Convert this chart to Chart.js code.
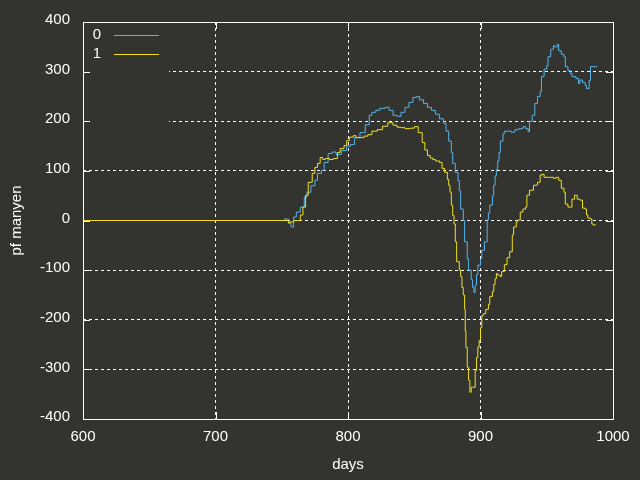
<!DOCTYPE html>
<html>
<head>
<meta charset="utf-8">
<script src="https://cdn.jsdelivr.net/npm/chart.js@4"></script>
<style>
  html, body { margin: 0; padding: 0; background: #33342f; }
  #wrap { width: 640px; height: 480px; }
</style>
</head>
<body>
<div id="wrap"><canvas id="chart" width="640" height="480"></canvas></div>
<script>
const days0 = [600, 752, 755, 757, 759, 761, 764, 767, 769, 772, 775, 777, 780, 782, 785, 788, 791, 795, 799, 802,
  805, 809, 813, 816, 818, 821, 824, 828, 831, 834, 837, 840, 843, 846, 849, 852, 854, 857, 860, 863,
  866, 869, 872, 874, 876, 878, 879, 881, 883, 884, 885, 887, 888, 890, 891, 893, 894, 895, 896, 897,
  898, 900, 901, 903, 905, 906, 907, 909, 910, 911, 912, 913, 914, 915, 917, 918, 920, 923, 926, 929,
  932, 934, 936, 937, 939, 941, 943, 945, 946, 948, 950, 951, 953, 955, 956, 958, 959, 961, 963, 964,
  966, 968, 969, 972, 974, 975, 977, 979, 980, 982, 983, 985, 986, 988];
const pf0 = [0, 0, 3, -5, -13, 7, 17, 27, 47, 57, 70, 81, 95, 101, 117, 135, 138, 133, 141, 150,
  153, 167, 177, 193, 212, 218, 222, 226, 228, 222, 212, 210, 218, 228, 238, 248, 250, 243, 236, 228,
  222, 214, 205, 196, 180, 160, 137, 115, 97, 80, 60, 23, 0, -43, -77, -100, -119, -135, -145, -130,
  -109, -90, -77, -60, -43, 1, 15, 31, 50, 71, 90, 103, 120, 137, 160, 175, 180, 180, 178, 183,
  185, 189, 185, 179, 200, 212, 236, 250, 260, 290, 305, 312, 330, 345, 352, 350, 355, 342, 335, 330,
  310, 302, 296, 290, 286, 276, 283, 278, 272, 266, 282, 310, 310, 310];

const days1 = [600, 755, 756, 759, 762, 764, 766, 768, 770, 773, 775, 777, 779, 781, 783, 786, 789, 792, 794, 797,
  799, 801, 804, 806, 809, 812, 815, 818, 822, 826, 830, 834, 837, 840, 843, 847, 850, 853, 856, 858,
  860, 862, 864, 866, 869, 871, 873, 875, 876, 877, 878, 879, 880, 881, 882, 884, 885, 886, 887, 888,
  888.5, 889, 890, 891, 892, 893, 894, 896, 897, 898, 899, 900, 901, 902, 904, 906, 907, 909, 910, 911,
  912, 913, 915, 916, 918, 920, 922, 924, 925, 927, 928, 930, 932, 934, 935, 937, 940, 943, 945, 946,
  948, 951, 955, 957, 959, 961, 963, 964, 966, 968, 969, 971, 973, 975, 977, 979, 980, 981, 983, 984,
  985, 987];
const pf1 = [0, 0, -5, -3, 0, 0, 11, 27, 51, 77, 95, 107, 115, 127, 123, 125, 123, 125, 137, 145,
  151, 161, 168, 171, 167, 167, 170, 173, 180, 183, 190, 197, 192, 188, 187, 185, 186, 189, 177, 157,
  142, 131, 126, 123, 120, 117, 105, 97, 83, 71, 57, 31, 10, -7, -43, -83, -100, -113, -135, -150,
  -179, -223, -256, -296, -322, -346, -336, -336, -302, -276, -255, -242, -216, -192, -188, -179, -169, -153, -143, -129,
  -117, -107, -110, -113, -103, -89, -75, -63, -29, -13, -3, 1, 17, 23, 27, 51, 61, 71, 77, 91,
  93, 87, 87, 85, 87, 81, 65, 57, 33, 27, 27, 43, 51, 43, 41, 25, 23, 11, 5, 3,
  -7, -9];

const seriesNames = ["0", "1"];
const seriesColors = ["#56b4e9", "#f0e020"];
const xTicks = [600, 700, 800, 900, 1000];
const yTicks = [-400, -300, -200, -100, 0, 100, 200, 300, 400];

const BG = "#33342f";
const FG = "#ffffff";
const FONT = "'Liberation Sans', Arial, sans-serif";

const toPoints = (xs, ys) => xs.map((x, i) => ({ x: x, y: ys[i] }));

// gnuplot style frame with inward tick marks
const framePlugin = {
  id: "frame",
  afterDatasetsDraw(chart) {
    const { ctx, chartArea: a, scales } = chart;
    ctx.save();
    ctx.strokeStyle = FG;
    ctx.lineWidth = 1;
    ctx.setLineDash([]);
    ctx.strokeRect(Math.round(a.left) + 0.5, Math.round(a.top) + 0.5,
      Math.round(a.right - a.left), Math.round(a.bottom - a.top));
    ctx.beginPath();
    yTicks.forEach(v => {
      const y = Math.round(scales.y.getPixelForValue(v)) + 0.5;
      ctx.moveTo(a.left, y); ctx.lineTo(a.left + 7, y);
      ctx.moveTo(a.right, y); ctx.lineTo(a.right - 7, y);
    });
    xTicks.forEach(v => {
      const x = Math.round(scales.x.getPixelForValue(v)) + 0.5;
      ctx.moveTo(x, a.bottom); ctx.lineTo(x, a.bottom - 7);
      ctx.moveTo(x, a.top); ctx.lineTo(x, a.top + 7);
    });
    ctx.stroke();
    ctx.restore();
  }
};

// gnuplot style key, opaque so the grid stops behind it
const keyPlugin = {
  id: "key",
  beforeDatasetsDraw(chart) {
    const { ctx, chartArea: a } = chart;
    ctx.save();
    ctx.fillStyle = BG;
    ctx.fillRect(a.left + 1, a.top + 1, 85, 120);
    ctx.font = "15px " + FONT;
    ctx.textAlign = "right";
    ctx.textBaseline = "middle";
    seriesNames.forEach((name, i) => {
      const y = a.top + 13 + i * 19;
      ctx.fillStyle = FG;
      ctx.fillText(name, a.left + 18, y);
      ctx.strokeStyle = seriesColors[i];
      ctx.lineWidth = 1;
      ctx.beginPath();
      ctx.moveTo(a.left + 31, Math.round(y) + 0.5);
      ctx.lineTo(a.left + 76, Math.round(y) + 0.5);
      ctx.stroke();
    });
    ctx.restore();
  }
};

new Chart(document.getElementById("chart"), {
  type: "line",
  data: {
    datasets: [
      {
        label: seriesNames[0],
        data: toPoints(days0, pf0),
        borderColor: seriesColors[0],
        borderWidth: 1,
        pointRadius: 0,
        stepped: "after",
        order: 1,
      },
      {
        label: seriesNames[1],
        data: toPoints(days1, pf1),
        borderColor: seriesColors[1],
        borderWidth: 1,
        pointRadius: 0,
        stepped: "after",
        order: 0,
      },
    ],
  },
  options: {
    responsive: false,
    animation: false,
    layout: { padding: { top: 18, right: 27, left: 0, bottom: 0 } },
    plugins: {
      legend: { display: false },
      tooltip: { enabled: false },
    },
    scales: {
      x: {
        type: "linear",
        min: 600,
        max: 1000,
        afterFit: s => { s.height = 61; },
        afterBuildTicks: s => { s.ticks = xTicks.map(v => ({ value: v })); },
        ticks: { color: FG, font: { size: 15, family: FONT }, padding: 9, maxRotation: 0, callback: v => String(v) },
        grid: { color: FG, lineWidth: 1, drawTicks: false },
        border: { display: false, dash: [3, 3] },
        title: { display: true, text: "days", color: FG, font: { size: 15, family: FONT }, padding: { top: 0, bottom: 6 } },
      },
      y: {
        min: -400,
        max: 400,
        afterFit: s => { s.width = 83; },
        afterBuildTicks: s => { s.ticks = yTicks.map(v => ({ value: v })); },
        ticks: { color: FG, font: { size: 15, family: FONT }, padding: 13, labelOffset: -2, callback: v => String(v) },
        grid: { color: FG, lineWidth: 1, drawTicks: false },
        border: { display: false, dash: [3, 3] },
        title: { display: true, text: "pf manyen", color: FG, font: { size: 15, family: FONT }, padding: { top: 8, bottom: 0 } },
      },
    },
  },
  plugins: [framePlugin, keyPlugin],
});
</script>
</body>
</html>
